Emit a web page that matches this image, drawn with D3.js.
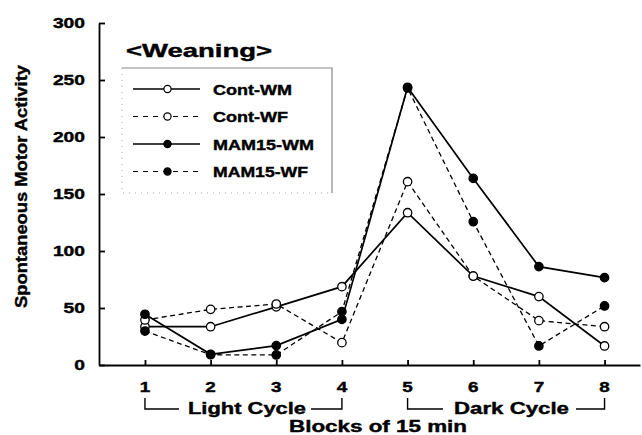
<!DOCTYPE html>
<html>
<head>
<meta charset="utf-8">
<script src="https://cdn.jsdelivr.net/npm/d3@7"></script>
<style>
  body { margin: 0; background: #fff; }
  svg { display: block; }
  text { font-family: "Liberation Sans", Arial, sans-serif; font-weight: bold; fill: #000; stroke: #000; stroke-width: 0.4px; }
</style>
</head>
<body>
<svg width="642" height="435"></svg>
<script>
let width = 642,
    height = 435;

// data
const blocks = [1, 2, 3, 4, 5, 6, 7, 8];
const contWM = [33.6, 33.6, 51, 68.7, 133.6, 78, 60, 16.7];
const contWF = [39.5, 48.8, 53.5, 19.6, 160.8, 78, 38.9, 33.6];
const mamWM = [44.5, 9.4, 17, 40, 243.6, 163.7, 86.3, 76.6];
const mamWF = [29.8, 9, 8.8, 46.8, 243, 125.7, 16.7, 51.8];
const seriesNames = ["Cont-WM", "Cont-WF", "MAM15-WM", "MAM15-WF"];
const yTicks = [0, 50, 100, 150, 200, 250, 300];

const series = [
    { name: seriesNames[0], values: contWM, dashed: false, filled: false, w: 79 },
    { name: seriesNames[1], values: contWF, dashed: true, filled: false, w: 75 },
    { name: seriesNames[2], values: mamWM, dashed: false, filled: true, w: 101 },
    { name: seriesNames[3], values: mamWF, dashed: true, filled: true, w: 95 },
];

let svg = d3.select("svg");

let x = d3.scaleLinear().domain([0.3, 8.54]).range([99, 640]);
let y = d3.scaleLinear().domain([0, 300]).range([365, 23]);

// wide bold text, like the scanned figure
function label(g, txt, px, py, size, len, anchor) {
    return g.append("text")
        .attr("x", px)
        .attr("y", py)
        .attr("text-anchor", anchor || "middle")
        .attr("font-size", size)
        .attr("textLength", len)
        .attr("lengthAdjust", "spacingAndGlyphs")
        .text(txt);
}

// axes
svg.append("g")
    .attr("transform", "translate(0,365)")
    .call(d3.axisBottom(x).tickValues(blocks).tickSizeInner(-5).tickSizeOuter(0).tickFormat(""))
    .call((g) => g.selectAll("path, line").attr("stroke", "#000").attr("stroke-width", 1.8));

svg.append("g")
    .attr("transform", "translate(99,0)")
    .call(d3.axisLeft(y).tickValues(yTicks).tickSizeInner(-6).tickSizeOuter(0).tickFormat(""))
    .call((g) => g.selectAll("path, line").attr("stroke", "#000").attr("stroke-width", 1.8));

blocks.forEach((b) => label(svg, b, x(b), 392, 14.5, 10.5));
yTicks.forEach((t) => label(svg, t, 85, y(t) + 5, 14.5, String(t).length * 10.7, "end"));

// y title
svg.append("text")
    .attr("transform", "translate(27,186.5) rotate(-90)")
    .attr("text-anchor", "middle")
    .attr("font-size", 17)
    .attr("textLength", 243)
    .attr("lengthAdjust", "spacingAndGlyphs")
    .text("Spontaneous Motor Activity");

// cycle brackets
let br = svg.append("g").attr("fill", "none").attr("stroke", "#000").attr("stroke-width", 1.4);
br.append("path").attr("d", `M${x(1)},398V409H179`);
br.append("path").attr("d", `M311,409H${x(4)}V398`);
br.append("path").attr("d", `M${x(5)},398V409H443`);
br.append("path").attr("d", `M576,409H${x(8)}V398`);
label(svg, "Light Cycle", 247, 414, 16.5, 118);
label(svg, "Dark Cycle", 511.5, 414, 16.5, 115);
label(svg, "Blocks of 15 min", 378, 432, 16.5, 178);

// lines
let line = d3.line()
    .x((d, i) => x(blocks[i]))
    .y((d) => y(d));

series.forEach((s) => {
    svg.append("path")
        .datum(s.values)
        .attr("d", line)
        .attr("fill", "none")
        .attr("stroke", "#000")
        .attr("stroke-width", s.dashed ? 1.3 : 1.7)
        .attr("stroke-dasharray", s.dashed ? "5,3.5" : null);
});

series.forEach((s) => {
    svg.append("g")
        .selectAll("circle")
        .data(s.values)
        .enter()
        .append("circle")
        .attr("cx", (d, i) => x(blocks[i]))
        .attr("cy", (d) => y(d))
        .attr("r", 4.2)
        .attr("fill", s.filled ? "#000" : "#fff")
        .attr("stroke", "#000")
        .attr("stroke-width", 1.3);
});

// legend
label(svg, "<Weaning>", 126, 57, 19, 146, "start");

let lg = svg.append("g");
lg.append("path")
    .attr("d", "M122,68H332V193")
    .attr("fill", "none")
    .attr("stroke", "#888")
    .attr("stroke-width", 1.2);
lg.append("path")
    .attr("d", "M122,68V193H332")
    .attr("fill", "none")
    .attr("stroke", "#aaa")
    .attr("stroke-width", 1)
    .attr("stroke-dasharray", "1,5");

series.forEach((s, i) => {
    let yy = 89 + i * 27.5;
    lg.append("line")
        .attr("x1", 133).attr("x2", 200)
        .attr("y1", yy).attr("y2", yy)
        .attr("stroke", "#000")
        .attr("stroke-width", s.dashed ? 1 : 1.3)
        .attr("stroke-dasharray", s.dashed ? "5,5" : null);
    lg.append("circle")
        .attr("cx", 167.5).attr("cy", yy).attr("r", 3.6)
        .attr("fill", s.filled ? "#000" : "#fff")
        .attr("stroke", "#000")
        .attr("stroke-width", 1.2);
    label(lg, s.name, 213, yy + 5.5, 15, s.w, "start");
});
</script>
</body>
</html>
